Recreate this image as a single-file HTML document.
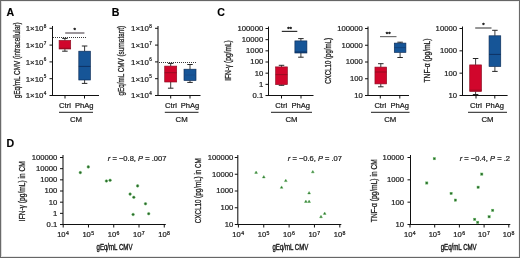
<!DOCTYPE html>
<html><head><meta charset="utf-8"><style>
html,body{margin:0;padding:0;background:#fff;}
#f{position:relative;width:520px;height:258px;overflow:hidden;background:#fff;}
svg{position:absolute;left:0;top:0;will-change:transform;}
text{font-family:"Liberation Sans",sans-serif;}
</style></head><body><div id="f">
<svg width="520" height="258" viewBox="0 0 520 258">
<rect x="0" y="0" width="520" height="258" fill="#fff"/>
<text x="6.6" y="15.7" font-size="10.6" font-weight="bold" fill="#000" stroke="#000" stroke-width="0.15">A</text>
<text transform="translate(19.7,60.3) rotate(-90)" font-size="8.6" text-anchor="middle" fill="#1c1c1c" stroke="#1c1c1c" stroke-width="0.28" textLength="76" lengthAdjust="spacingAndGlyphs">gEq/mL CMV (intracellular)</text>
<line x1="52.5" y1="26" x2="52.5" y2="96.0" stroke="#111" stroke-width="1.05" />
<line x1="49.5" y1="28.3" x2="52.5" y2="28.3" stroke="#111" stroke-width="1" />
<text x="46.3" y="31.1" font-size="7.9" text-anchor="end" fill="#1c1c1c" stroke="#1c1c1c" stroke-width="0.22">1×10<tspan dx="0.3" dy="-3.3" font-size="4.6">8</tspan></text>
<line x1="49.5" y1="45.1" x2="52.5" y2="45.1" stroke="#111" stroke-width="1" />
<text x="46.3" y="47.9" font-size="7.9" text-anchor="end" fill="#1c1c1c" stroke="#1c1c1c" stroke-width="0.22">1×10<tspan dx="0.3" dy="-3.3" font-size="4.6">7</tspan></text>
<line x1="49.5" y1="61.9" x2="52.5" y2="61.9" stroke="#111" stroke-width="1" />
<text x="46.3" y="64.7" font-size="7.9" text-anchor="end" fill="#1c1c1c" stroke="#1c1c1c" stroke-width="0.22">1×10<tspan dx="0.3" dy="-3.3" font-size="4.6">6</tspan></text>
<line x1="49.5" y1="78.7" x2="52.5" y2="78.7" stroke="#111" stroke-width="1" />
<text x="46.3" y="81.5" font-size="7.9" text-anchor="end" fill="#1c1c1c" stroke="#1c1c1c" stroke-width="0.22">1×10<tspan dx="0.3" dy="-3.3" font-size="4.6">5</tspan></text>
<line x1="49.5" y1="95.5" x2="52.5" y2="95.5" stroke="#111" stroke-width="1" />
<text x="46.3" y="98.3" font-size="7.9" text-anchor="end" fill="#1c1c1c" stroke="#1c1c1c" stroke-width="0.22">1×10<tspan dx="0.3" dy="-3.3" font-size="4.6">4</tspan></text>
<line x1="52" y1="95.5" x2="99" y2="95.5" stroke="#111" stroke-width="1.05" />
<line x1="65" y1="95.5" x2="65" y2="98.5" stroke="#111" stroke-width="1" />
<line x1="84.5" y1="95.5" x2="84.5" y2="98.5" stroke="#111" stroke-width="1" />
<rect x="53" y="37" width="1" height="1" fill="#3a3a3a"/>
<rect x="55" y="37" width="1" height="1" fill="#3a3a3a"/>
<rect x="57" y="37" width="1" height="1" fill="#3a3a3a"/>
<rect x="59" y="37" width="1" height="1" fill="#3a3a3a"/>
<rect x="61" y="37" width="1" height="1" fill="#3a3a3a"/>
<rect x="63" y="37" width="1" height="1" fill="#3a3a3a"/>
<rect x="65" y="37" width="1" height="1" fill="#3a3a3a"/>
<rect x="67" y="37" width="1" height="1" fill="#3a3a3a"/>
<rect x="69" y="37" width="1" height="1" fill="#3a3a3a"/>
<rect x="71" y="37" width="1" height="1" fill="#3a3a3a"/>
<rect x="73" y="37" width="1" height="1" fill="#3a3a3a"/>
<rect x="75" y="37" width="1" height="1" fill="#3a3a3a"/>
<rect x="77" y="37" width="1" height="1" fill="#3a3a3a"/>
<rect x="79" y="37" width="1" height="1" fill="#3a3a3a"/>
<rect x="81" y="37" width="1" height="1" fill="#3a3a3a"/>
<rect x="83" y="37" width="1" height="1" fill="#3a3a3a"/>
<rect x="85" y="37" width="1" height="1" fill="#3a3a3a"/>
<line x1="65.2" y1="33" x2="84.4" y2="33" stroke="#5a5058" stroke-width="1.2" />
<text x="74.8" y="32.3" font-size="6.2" text-anchor="middle" fill="#222" stroke="#222" stroke-width="0.45" >*</text>
<line x1="64.9" y1="38.4" x2="64.9" y2="40.5" stroke="#262626" stroke-width="0.9" />
<line x1="64.9" y1="49.0" x2="64.9" y2="51.2" stroke="#262626" stroke-width="0.9" />
<line x1="62.15" y1="38.4" x2="67.65" y2="38.4" stroke="#262626" stroke-width="1" />
<line x1="62.15" y1="51.2" x2="67.65" y2="51.2" stroke="#262626" stroke-width="1" />
<rect x="59.1" y="40.5" width="11.6" height="8.5" fill="#d1062c" stroke="#8a0c20" stroke-width="0.65"/>
<line x1="59.1" y1="48.3" x2="70.7" y2="48.3" stroke="#8a0c20" stroke-width="0.8" />
<line x1="84.6" y1="46" x2="84.6" y2="51.2" stroke="#262626" stroke-width="0.9" />
<line x1="84.6" y1="80" x2="84.6" y2="83.4" stroke="#262626" stroke-width="0.9" />
<line x1="81.85" y1="46" x2="87.35" y2="46" stroke="#262626" stroke-width="1" />
<line x1="81.85" y1="83.4" x2="87.35" y2="83.4" stroke="#262626" stroke-width="1" />
<rect x="78.8" y="51.2" width="11.6" height="28.8" fill="#165597" stroke="#0b2a55" stroke-width="0.65"/>
<line x1="78.8" y1="66.4" x2="90.4" y2="66.4" stroke="#0b2a55" stroke-width="0.8" />
<text x="65" y="107.6" font-size="7.6" text-anchor="middle" fill="#1c1c1c" stroke="#1c1c1c" stroke-width="0.22" >Ctrl</text>
<text x="84.2" y="107.6" font-size="7.6" text-anchor="middle" fill="#1c1c1c" stroke="#1c1c1c" stroke-width="0.22" >PhAg</text>
<line x1="59" y1="112.3" x2="93" y2="112.3" stroke="#111" stroke-width="0.95" />
<text x="76.0" y="121.8" font-size="7.8" text-anchor="middle" fill="#1c1c1c" stroke="#1c1c1c" stroke-width="0.22" >CM</text>
<text x="111.7" y="15.7" font-size="10.6" font-weight="bold" fill="#000" stroke="#000" stroke-width="0.15">B</text>
<text transform="translate(124.4,60.75) rotate(-90)" font-size="8.6" text-anchor="middle" fill="#1c1c1c" stroke="#1c1c1c" stroke-width="0.28" textLength="69.5" lengthAdjust="spacingAndGlyphs">gEq/mL CMV (surnatant)</text>
<line x1="158.0" y1="26" x2="158.0" y2="96.0" stroke="#111" stroke-width="1.05" />
<line x1="155.0" y1="28.3" x2="158.0" y2="28.3" stroke="#111" stroke-width="1" />
<text x="151.7" y="31.1" font-size="7.9" text-anchor="end" fill="#1c1c1c" stroke="#1c1c1c" stroke-width="0.22">1×10<tspan dx="0.3" dy="-3.3" font-size="4.6">8</tspan></text>
<line x1="155.0" y1="45.1" x2="158.0" y2="45.1" stroke="#111" stroke-width="1" />
<text x="151.7" y="47.9" font-size="7.9" text-anchor="end" fill="#1c1c1c" stroke="#1c1c1c" stroke-width="0.22">1×10<tspan dx="0.3" dy="-3.3" font-size="4.6">7</tspan></text>
<line x1="155.0" y1="61.9" x2="158.0" y2="61.9" stroke="#111" stroke-width="1" />
<text x="151.7" y="64.7" font-size="7.9" text-anchor="end" fill="#1c1c1c" stroke="#1c1c1c" stroke-width="0.22">1×10<tspan dx="0.3" dy="-3.3" font-size="4.6">6</tspan></text>
<line x1="155.0" y1="78.7" x2="158.0" y2="78.7" stroke="#111" stroke-width="1" />
<text x="151.7" y="81.5" font-size="7.9" text-anchor="end" fill="#1c1c1c" stroke="#1c1c1c" stroke-width="0.22">1×10<tspan dx="0.3" dy="-3.3" font-size="4.6">5</tspan></text>
<line x1="155.0" y1="95.5" x2="158.0" y2="95.5" stroke="#111" stroke-width="1" />
<text x="151.7" y="98.3" font-size="7.9" text-anchor="end" fill="#1c1c1c" stroke="#1c1c1c" stroke-width="0.22">1×10<tspan dx="0.3" dy="-3.3" font-size="4.6">4</tspan></text>
<line x1="157.5" y1="95.5" x2="200.5" y2="95.5" stroke="#111" stroke-width="1.05" />
<line x1="170.7" y1="95.5" x2="170.7" y2="98.5" stroke="#111" stroke-width="1" />
<line x1="190" y1="95.5" x2="190" y2="98.5" stroke="#111" stroke-width="1" />
<rect x="159" y="62" width="1" height="1" fill="#3a3a3a"/>
<rect x="161" y="62" width="1" height="1" fill="#3a3a3a"/>
<rect x="163" y="62" width="1" height="1" fill="#3a3a3a"/>
<rect x="165" y="62" width="1" height="1" fill="#3a3a3a"/>
<rect x="167" y="62" width="1" height="1" fill="#3a3a3a"/>
<rect x="169" y="62" width="1" height="1" fill="#3a3a3a"/>
<rect x="171" y="62" width="1" height="1" fill="#3a3a3a"/>
<rect x="173" y="62" width="1" height="1" fill="#3a3a3a"/>
<rect x="175" y="62" width="1" height="1" fill="#3a3a3a"/>
<rect x="177" y="62" width="1" height="1" fill="#3a3a3a"/>
<rect x="179" y="62" width="1" height="1" fill="#3a3a3a"/>
<rect x="181" y="62" width="1" height="1" fill="#3a3a3a"/>
<rect x="183" y="62" width="1" height="1" fill="#3a3a3a"/>
<rect x="185" y="62" width="1" height="1" fill="#3a3a3a"/>
<rect x="187" y="62" width="1" height="1" fill="#3a3a3a"/>
<rect x="189" y="62" width="1" height="1" fill="#3a3a3a"/>
<rect x="191" y="62" width="1" height="1" fill="#3a3a3a"/>
<rect x="193" y="62" width="1" height="1" fill="#3a3a3a"/>
<rect x="195" y="62" width="1" height="1" fill="#3a3a3a"/>
<line x1="170.7" y1="63.4" x2="170.7" y2="66.1" stroke="#262626" stroke-width="0.9" />
<line x1="170.7" y1="82" x2="170.7" y2="88.2" stroke="#262626" stroke-width="0.9" />
<line x1="167.95" y1="63.4" x2="173.45" y2="63.4" stroke="#262626" stroke-width="1" />
<line x1="167.95" y1="88.2" x2="173.45" y2="88.2" stroke="#262626" stroke-width="1" />
<rect x="164.7" y="66.1" width="12" height="15.9" fill="#d1062c" stroke="#8a0c20" stroke-width="0.65"/>
<line x1="164.7" y1="72.7" x2="176.7" y2="72.7" stroke="#8a0c20" stroke-width="0.8" />
<line x1="190" y1="64.5" x2="190" y2="69.2" stroke="#262626" stroke-width="0.9" />
<line x1="190" y1="80.5" x2="190" y2="82.4" stroke="#262626" stroke-width="0.9" />
<line x1="187.25" y1="64.5" x2="192.75" y2="64.5" stroke="#262626" stroke-width="1" />
<line x1="187.25" y1="82.4" x2="192.75" y2="82.4" stroke="#262626" stroke-width="1" />
<rect x="184.0" y="69.2" width="12" height="11.3" fill="#165597" stroke="#0b2a55" stroke-width="0.65"/>
<line x1="184.0" y1="75" x2="196.0" y2="75" stroke="#1a4a85" stroke-width="0.8" />
<text x="171" y="107.6" font-size="7.6" text-anchor="middle" fill="#1c1c1c" stroke="#1c1c1c" stroke-width="0.22" >Ctrl</text>
<text x="190" y="107.6" font-size="7.6" text-anchor="middle" fill="#1c1c1c" stroke="#1c1c1c" stroke-width="0.22" >PhAg</text>
<line x1="164.8" y1="112.3" x2="198.5" y2="112.3" stroke="#111" stroke-width="0.95" />
<text x="181.65" y="121.8" font-size="7.8" text-anchor="middle" fill="#1c1c1c" stroke="#1c1c1c" stroke-width="0.22" >CM</text>
<text x="217.2" y="15.7" font-size="10.6" font-weight="bold" fill="#000" stroke="#000" stroke-width="0.15">C</text>
<text transform="translate(231.3,60.5) rotate(-90)" font-size="8.6" text-anchor="middle" fill="#1c1c1c" stroke="#1c1c1c" stroke-width="0.28" textLength="40.5" lengthAdjust="spacingAndGlyphs">IFN-γ (pg/mL)</text>
<line x1="268.5" y1="26.5" x2="268.5" y2="96.02" stroke="#111" stroke-width="1.05" />
<line x1="265.5" y1="28.5" x2="268.5" y2="28.5" stroke="#111" stroke-width="1" />
<text x="263.2" y="30.9" font-size="7.7" text-anchor="end" fill="#1c1c1c" stroke="#1c1c1c" stroke-width="0.22" >100000</text>
<line x1="265.5" y1="39.67" x2="268.5" y2="39.67" stroke="#111" stroke-width="1" />
<text x="263.2" y="42.07" font-size="7.7" text-anchor="end" fill="#1c1c1c" stroke="#1c1c1c" stroke-width="0.22" >10000</text>
<line x1="265.5" y1="50.84" x2="268.5" y2="50.84" stroke="#111" stroke-width="1" />
<text x="263.2" y="53.24" font-size="7.7" text-anchor="end" fill="#1c1c1c" stroke="#1c1c1c" stroke-width="0.22" >1000</text>
<line x1="265.5" y1="62.01" x2="268.5" y2="62.01" stroke="#111" stroke-width="1" />
<text x="263.2" y="64.41" font-size="7.7" text-anchor="end" fill="#1c1c1c" stroke="#1c1c1c" stroke-width="0.22" >100</text>
<line x1="265.5" y1="73.18" x2="268.5" y2="73.18" stroke="#111" stroke-width="1" />
<text x="263.2" y="75.58" font-size="7.7" text-anchor="end" fill="#1c1c1c" stroke="#1c1c1c" stroke-width="0.22" >10</text>
<line x1="265.5" y1="84.35" x2="268.5" y2="84.35" stroke="#111" stroke-width="1" />
<text x="263.2" y="86.75" font-size="7.7" text-anchor="end" fill="#1c1c1c" stroke="#1c1c1c" stroke-width="0.22" >1</text>
<line x1="265.5" y1="95.52" x2="268.5" y2="95.52" stroke="#111" stroke-width="1" />
<text x="263.2" y="97.92" font-size="7.7" text-anchor="end" fill="#1c1c1c" stroke="#1c1c1c" stroke-width="0.22" >0.1</text>
<line x1="268" y1="95.5" x2="313.5" y2="95.5" stroke="#111" stroke-width="1.05" />
<line x1="281.5" y1="95.5" x2="281.5" y2="98.5" stroke="#111" stroke-width="1" />
<line x1="301" y1="95.5" x2="301" y2="98.5" stroke="#111" stroke-width="1" />
<line x1="281.8" y1="31.4" x2="297.3" y2="31.4" stroke="#303030" stroke-width="1.2" />
<text x="289.55" y="30.9" font-size="6.2" text-anchor="middle" fill="#222" stroke="#222" stroke-width="0.45" >**</text>
<line x1="281.5" y1="65.3" x2="281.5" y2="66.9" stroke="#262626" stroke-width="0.9" />
<line x1="281.5" y1="84.6" x2="281.5" y2="85.3" stroke="#262626" stroke-width="0.9" />
<line x1="278.75" y1="65.3" x2="284.25" y2="65.3" stroke="#262626" stroke-width="1" />
<line x1="278.75" y1="85.3" x2="284.25" y2="85.3" stroke="#262626" stroke-width="1" />
<rect x="275.65" y="66.9" width="11.7" height="17.7" fill="#d1062c" stroke="#8a0c20" stroke-width="0.65"/>
<line x1="275.65" y1="74.6" x2="287.35" y2="74.6" stroke="#8a0c20" stroke-width="0.8" />
<line x1="300.9" y1="38.6" x2="300.9" y2="40.9" stroke="#262626" stroke-width="0.9" />
<line x1="300.9" y1="53" x2="300.9" y2="57.2" stroke="#262626" stroke-width="0.9" />
<line x1="298.15" y1="38.6" x2="303.65" y2="38.6" stroke="#262626" stroke-width="1" />
<line x1="298.15" y1="57.2" x2="303.65" y2="57.2" stroke="#262626" stroke-width="1" />
<rect x="294.9" y="40.9" width="12" height="12.1" fill="#165597" stroke="#0b2a55" stroke-width="0.65"/>
<line x1="294.9" y1="52" x2="306.9" y2="52" stroke="#0b2a55" stroke-width="0.8" />
<text x="281.2" y="107.6" font-size="7.6" text-anchor="middle" fill="#1c1c1c" stroke="#1c1c1c" stroke-width="0.22" >Ctrl</text>
<text x="300.8" y="107.6" font-size="7.6" text-anchor="middle" fill="#1c1c1c" stroke="#1c1c1c" stroke-width="0.22" >PhAg</text>
<line x1="271" y1="112.3" x2="312" y2="112.3" stroke="#111" stroke-width="0.95" />
<text x="291.5" y="121.8" font-size="7.8" text-anchor="middle" fill="#1c1c1c" stroke="#1c1c1c" stroke-width="0.22" >CM</text>
<text transform="translate(330.5,60.9) rotate(-90)" font-size="8.6" text-anchor="middle" fill="#1c1c1c" stroke="#1c1c1c" stroke-width="0.28" textLength="45.8" lengthAdjust="spacingAndGlyphs">CXCL10 (pg/mL)</text>
<line x1="368.0" y1="26.5" x2="368.0" y2="96.0" stroke="#111" stroke-width="1.05" />
<line x1="365.0" y1="28.5" x2="368.0" y2="28.5" stroke="#111" stroke-width="1" />
<text x="362.9" y="30.9" font-size="7.7" text-anchor="end" fill="#1c1c1c" stroke="#1c1c1c" stroke-width="0.22" >100000</text>
<line x1="365.0" y1="45.25" x2="368.0" y2="45.25" stroke="#111" stroke-width="1" />
<text x="362.9" y="47.65" font-size="7.7" text-anchor="end" fill="#1c1c1c" stroke="#1c1c1c" stroke-width="0.22" >10000</text>
<line x1="365.0" y1="62.0" x2="368.0" y2="62.0" stroke="#111" stroke-width="1" />
<text x="362.9" y="64.4" font-size="7.7" text-anchor="end" fill="#1c1c1c" stroke="#1c1c1c" stroke-width="0.22" >1000</text>
<line x1="365.0" y1="78.75" x2="368.0" y2="78.75" stroke="#111" stroke-width="1" />
<text x="362.9" y="81.15" font-size="7.7" text-anchor="end" fill="#1c1c1c" stroke="#1c1c1c" stroke-width="0.22" >100</text>
<line x1="365.0" y1="95.5" x2="368.0" y2="95.5" stroke="#111" stroke-width="1" />
<text x="362.9" y="97.9" font-size="7.7" text-anchor="end" fill="#1c1c1c" stroke="#1c1c1c" stroke-width="0.22" >10</text>
<line x1="367.5" y1="95.5" x2="409" y2="95.5" stroke="#111" stroke-width="1.05" />
<line x1="380.3" y1="95.5" x2="380.3" y2="98.5" stroke="#111" stroke-width="1" />
<line x1="399.8" y1="95.5" x2="399.8" y2="98.5" stroke="#111" stroke-width="1" />
<line x1="380" y1="36.6" x2="396.5" y2="36.6" stroke="#707070" stroke-width="1.2" />
<text x="388.25" y="36.2" font-size="6.2" text-anchor="middle" fill="#222" stroke="#222" stroke-width="0.45" >**</text>
<line x1="380.8" y1="63.7" x2="380.8" y2="67.1" stroke="#262626" stroke-width="0.9" />
<line x1="380.8" y1="83.9" x2="380.8" y2="86.8" stroke="#262626" stroke-width="0.9" />
<line x1="378.05" y1="63.7" x2="383.55" y2="63.7" stroke="#262626" stroke-width="1" />
<line x1="378.05" y1="86.8" x2="383.55" y2="86.8" stroke="#262626" stroke-width="1" />
<rect x="374.95" y="67.1" width="11.7" height="16.8" fill="#d1062c" stroke="#8a0c20" stroke-width="0.65"/>
<line x1="374.95" y1="72" x2="386.65" y2="72" stroke="#8a0c20" stroke-width="0.8" />
<line x1="400.1" y1="42.2" x2="400.1" y2="43.1" stroke="#262626" stroke-width="0.9" />
<line x1="400.1" y1="52.4" x2="400.1" y2="57.5" stroke="#262626" stroke-width="0.9" />
<line x1="397.35" y1="42.2" x2="402.85" y2="42.2" stroke="#262626" stroke-width="1" />
<line x1="397.35" y1="57.5" x2="402.85" y2="57.5" stroke="#262626" stroke-width="1" />
<rect x="394.3" y="43.1" width="11.6" height="9.3" fill="#165597" stroke="#0b2a55" stroke-width="0.65"/>
<line x1="394.3" y1="47.6" x2="405.9" y2="47.6" stroke="#123f75" stroke-width="0.8" />
<text x="380.3" y="107.6" font-size="7.6" text-anchor="middle" fill="#1c1c1c" stroke="#1c1c1c" stroke-width="0.22" >Ctrl</text>
<text x="399.8" y="107.6" font-size="7.6" text-anchor="middle" fill="#1c1c1c" stroke="#1c1c1c" stroke-width="0.22" >PhAg</text>
<line x1="371" y1="112.3" x2="409.5" y2="112.3" stroke="#111" stroke-width="0.95" />
<text x="390.25" y="121.8" font-size="7.8" text-anchor="middle" fill="#1c1c1c" stroke="#1c1c1c" stroke-width="0.22" >CM</text>
<text transform="translate(430.3,60.5) rotate(-90)" font-size="8.6" text-anchor="middle" fill="#1c1c1c" stroke="#1c1c1c" stroke-width="0.28" textLength="44.1" lengthAdjust="spacingAndGlyphs">TNF-α (pg/mL)</text>
<line x1="462.5" y1="26.5" x2="462.5" y2="95.99" stroke="#111" stroke-width="1.05" />
<line x1="459.5" y1="28.5" x2="462.5" y2="28.5" stroke="#111" stroke-width="1" />
<text x="457.0" y="30.9" font-size="7.7" text-anchor="end" fill="#1c1c1c" stroke="#1c1c1c" stroke-width="0.22" >10000</text>
<line x1="459.5" y1="50.83" x2="462.5" y2="50.83" stroke="#111" stroke-width="1" />
<text x="457.0" y="53.23" font-size="7.7" text-anchor="end" fill="#1c1c1c" stroke="#1c1c1c" stroke-width="0.22" >1000</text>
<line x1="459.5" y1="73.16" x2="462.5" y2="73.16" stroke="#111" stroke-width="1" />
<text x="457.0" y="75.56" font-size="7.7" text-anchor="end" fill="#1c1c1c" stroke="#1c1c1c" stroke-width="0.22" >100</text>
<line x1="459.5" y1="95.49" x2="462.5" y2="95.49" stroke="#111" stroke-width="1" />
<text x="457.0" y="97.89" font-size="7.7" text-anchor="end" fill="#1c1c1c" stroke="#1c1c1c" stroke-width="0.22" >10</text>
<line x1="462" y1="95.5" x2="507.6" y2="95.5" stroke="#111" stroke-width="1.05" />
<line x1="476" y1="95.5" x2="476" y2="98.5" stroke="#111" stroke-width="1" />
<line x1="494.8" y1="95.5" x2="494.8" y2="98.5" stroke="#111" stroke-width="1" />
<line x1="475.2" y1="28" x2="491.5" y2="28" stroke="#505050" stroke-width="1.2" />
<text x="483.35" y="27.4" font-size="6.2" text-anchor="middle" fill="#222" stroke="#222" stroke-width="0.45" >*</text>
<line x1="475.6" y1="58.5" x2="475.6" y2="64.9" stroke="#262626" stroke-width="0.9" />
<line x1="475.6" y1="91.5" x2="475.6" y2="94.5" stroke="#262626" stroke-width="0.9" />
<line x1="472.85" y1="58.5" x2="478.35" y2="58.5" stroke="#262626" stroke-width="1" />
<line x1="472.85" y1="94.5" x2="478.35" y2="94.5" stroke="#262626" stroke-width="1" />
<rect x="469.7" y="64.9" width="11.8" height="26.6" fill="#d1062c" stroke="#8a0c20" stroke-width="0.65"/>
<line x1="469.7" y1="90.2" x2="481.5" y2="90.2" stroke="#8a0c20" stroke-width="0.8" />
<line x1="494.9" y1="30.3" x2="494.9" y2="35.8" stroke="#262626" stroke-width="0.9" />
<line x1="494.9" y1="66.5" x2="494.9" y2="71.4" stroke="#262626" stroke-width="0.9" />
<line x1="492.15" y1="30.3" x2="497.65" y2="30.3" stroke="#262626" stroke-width="1" />
<line x1="492.15" y1="71.4" x2="497.65" y2="71.4" stroke="#262626" stroke-width="1" />
<rect x="489.05" y="35.8" width="11.7" height="30.7" fill="#165597" stroke="#0b2a55" stroke-width="0.65"/>
<line x1="489.05" y1="54.4" x2="500.75" y2="54.4" stroke="#0b2a55" stroke-width="0.8" />
<text x="476" y="107.6" font-size="7.6" text-anchor="middle" fill="#1c1c1c" stroke="#1c1c1c" stroke-width="0.22" >Ctrl</text>
<text x="494.8" y="107.6" font-size="7.6" text-anchor="middle" fill="#1c1c1c" stroke="#1c1c1c" stroke-width="0.22" >PhAg</text>
<line x1="468" y1="112.3" x2="507" y2="112.3" stroke="#111" stroke-width="0.95" />
<text x="487.5" y="121.8" font-size="7.8" text-anchor="middle" fill="#1c1c1c" stroke="#1c1c1c" stroke-width="0.22" >CM</text>
<text x="6.6" y="146.6" font-size="10.6" font-weight="bold" fill="#000" stroke="#000" stroke-width="0.15">D</text>
<text transform="translate(24.5,191.2) rotate(-90)" font-size="8.6" text-anchor="middle" fill="#1c1c1c" stroke="#1c1c1c" stroke-width="0.28" textLength="60" lengthAdjust="spacingAndGlyphs">IFN-γ (pg/mL) in CM</text>
<line x1="63" y1="155" x2="63" y2="225.02" stroke="#111" stroke-width="1.05" />
<line x1="60" y1="157.5" x2="63" y2="157.5" stroke="#111" stroke-width="1" />
<text x="57.3" y="159.9" font-size="7.7" text-anchor="end" fill="#1c1c1c" stroke="#1c1c1c" stroke-width="0.22" >100000</text>
<line x1="60" y1="168.67" x2="63" y2="168.67" stroke="#111" stroke-width="1" />
<text x="57.3" y="171.07" font-size="7.7" text-anchor="end" fill="#1c1c1c" stroke="#1c1c1c" stroke-width="0.22" >10000</text>
<line x1="60" y1="179.84" x2="63" y2="179.84" stroke="#111" stroke-width="1" />
<text x="57.3" y="182.24" font-size="7.7" text-anchor="end" fill="#1c1c1c" stroke="#1c1c1c" stroke-width="0.22" >1000</text>
<line x1="60" y1="191.01" x2="63" y2="191.01" stroke="#111" stroke-width="1" />
<text x="57.3" y="193.41" font-size="7.7" text-anchor="end" fill="#1c1c1c" stroke="#1c1c1c" stroke-width="0.22" >100</text>
<line x1="60" y1="202.18" x2="63" y2="202.18" stroke="#111" stroke-width="1" />
<text x="57.3" y="204.58" font-size="7.7" text-anchor="end" fill="#1c1c1c" stroke="#1c1c1c" stroke-width="0.22" >10</text>
<line x1="60" y1="213.35" x2="63" y2="213.35" stroke="#111" stroke-width="1" />
<text x="57.3" y="215.75" font-size="7.7" text-anchor="end" fill="#1c1c1c" stroke="#1c1c1c" stroke-width="0.22" >1</text>
<line x1="60" y1="224.52" x2="63" y2="224.52" stroke="#111" stroke-width="1" />
<text x="57.3" y="226.92" font-size="7.7" text-anchor="end" fill="#1c1c1c" stroke="#1c1c1c" stroke-width="0.22" >0.1</text>
<line x1="62.7" y1="224.5" x2="165.78" y2="224.5" stroke="#111" stroke-width="1.05" />
<line x1="63.2" y1="224.5" x2="63.2" y2="227.5" stroke="#111" stroke-width="1" />
<line x1="88.47" y1="224.5" x2="88.47" y2="227.5" stroke="#111" stroke-width="1" />
<line x1="113.74" y1="224.5" x2="113.74" y2="227.5" stroke="#111" stroke-width="1" />
<line x1="139.01" y1="224.5" x2="139.01" y2="227.5" stroke="#111" stroke-width="1" />
<line x1="164.28" y1="224.5" x2="164.28" y2="227.5" stroke="#111" stroke-width="1" />
<text x="63.0" y="237.1" font-size="7.6" text-anchor="middle" fill="#1c1c1c" stroke="#1c1c1c" stroke-width="0.22">10<tspan dx="0.4" dy="-2.6" font-size="5.2">4</tspan></text>
<text x="88.27" y="237.1" font-size="7.6" text-anchor="middle" fill="#1c1c1c" stroke="#1c1c1c" stroke-width="0.22">10<tspan dx="0.4" dy="-2.6" font-size="5.2">5</tspan></text>
<text x="113.54" y="237.1" font-size="7.6" text-anchor="middle" fill="#1c1c1c" stroke="#1c1c1c" stroke-width="0.22">10<tspan dx="0.4" dy="-2.6" font-size="5.2">6</tspan></text>
<text x="138.81" y="237.1" font-size="7.6" text-anchor="middle" fill="#1c1c1c" stroke="#1c1c1c" stroke-width="0.22">10<tspan dx="0.4" dy="-2.6" font-size="5.2">7</tspan></text>
<text x="164.08" y="237.1" font-size="7.6" text-anchor="middle" fill="#1c1c1c" stroke="#1c1c1c" stroke-width="0.22">10<tspan dx="0.4" dy="-2.6" font-size="5.2">8</tspan></text>
<text x="114.5" y="249.6" font-size="8.2" text-anchor="middle" fill="#1c1c1c" stroke="#1c1c1c" stroke-width="0.4" textLength="36" lengthAdjust="spacingAndGlyphs">gEq/mL CMV</text>
<circle cx="80.3" cy="172.6" r="1.3" fill="#2a622a" stroke="#5cb85c" stroke-width="0.5"/>
<circle cx="88.3" cy="166.9" r="1.3" fill="#2a622a" stroke="#5cb85c" stroke-width="0.5"/>
<circle cx="106.4" cy="181" r="1.3" fill="#2a622a" stroke="#5cb85c" stroke-width="0.5"/>
<circle cx="110.1" cy="180.3" r="1.3" fill="#2a622a" stroke="#5cb85c" stroke-width="0.5"/>
<circle cx="137.6" cy="185.9" r="1.3" fill="#2a622a" stroke="#5cb85c" stroke-width="0.5"/>
<circle cx="130.1" cy="194.1" r="1.3" fill="#2a622a" stroke="#5cb85c" stroke-width="0.5"/>
<circle cx="133.8" cy="197.3" r="1.3" fill="#2a622a" stroke="#5cb85c" stroke-width="0.5"/>
<circle cx="145.5" cy="203.8" r="1.3" fill="#2a622a" stroke="#5cb85c" stroke-width="0.5"/>
<circle cx="133.1" cy="214.5" r="1.3" fill="#2a622a" stroke="#5cb85c" stroke-width="0.5"/>
<circle cx="148.7" cy="213.7" r="1.3" fill="#2a622a" stroke="#5cb85c" stroke-width="0.5"/>
<text x="107.8" y="161" font-size="7.4" fill="#1c1c1c" stroke="#1c1c1c" stroke-width="0.22" textLength="58.6" lengthAdjust="spacingAndGlyphs"><tspan font-style="italic">r</tspan> = −0.8, <tspan font-style="italic">P</tspan> = .007</text>
<text transform="translate(200.9,190.75) rotate(-90)" font-size="8.6" text-anchor="middle" fill="#1c1c1c" stroke="#1c1c1c" stroke-width="0.28" textLength="65.1" lengthAdjust="spacingAndGlyphs">CXCL10 (pg/mL) in CM</text>
<line x1="237.8" y1="155" x2="237.8" y2="225.0" stroke="#111" stroke-width="1.05" />
<line x1="234.8" y1="157.5" x2="237.8" y2="157.5" stroke="#111" stroke-width="1" />
<text x="233.3" y="159.9" font-size="7.7" text-anchor="end" fill="#1c1c1c" stroke="#1c1c1c" stroke-width="0.22" >100000</text>
<line x1="234.8" y1="174.25" x2="237.8" y2="174.25" stroke="#111" stroke-width="1" />
<text x="233.3" y="176.65" font-size="7.7" text-anchor="end" fill="#1c1c1c" stroke="#1c1c1c" stroke-width="0.22" >10000</text>
<line x1="234.8" y1="191.0" x2="237.8" y2="191.0" stroke="#111" stroke-width="1" />
<text x="233.3" y="193.4" font-size="7.7" text-anchor="end" fill="#1c1c1c" stroke="#1c1c1c" stroke-width="0.22" >1000</text>
<line x1="234.8" y1="207.75" x2="237.8" y2="207.75" stroke="#111" stroke-width="1" />
<text x="233.3" y="210.15" font-size="7.7" text-anchor="end" fill="#1c1c1c" stroke="#1c1c1c" stroke-width="0.22" >100</text>
<line x1="234.8" y1="224.5" x2="237.8" y2="224.5" stroke="#111" stroke-width="1" />
<text x="233.3" y="226.9" font-size="7.7" text-anchor="end" fill="#1c1c1c" stroke="#1c1c1c" stroke-width="0.22" >10</text>
<line x1="237.9" y1="224.5" x2="341.3" y2="224.5" stroke="#111" stroke-width="1.05" />
<line x1="238.4" y1="224.5" x2="238.4" y2="227.5" stroke="#111" stroke-width="1" />
<line x1="263.75" y1="224.5" x2="263.75" y2="227.5" stroke="#111" stroke-width="1" />
<line x1="289.1" y1="224.5" x2="289.1" y2="227.5" stroke="#111" stroke-width="1" />
<line x1="314.45" y1="224.5" x2="314.45" y2="227.5" stroke="#111" stroke-width="1" />
<line x1="339.8" y1="224.5" x2="339.8" y2="227.5" stroke="#111" stroke-width="1" />
<text x="238.2" y="237.1" font-size="7.6" text-anchor="middle" fill="#1c1c1c" stroke="#1c1c1c" stroke-width="0.22">10<tspan dx="0.4" dy="-2.6" font-size="5.2">4</tspan></text>
<text x="263.55" y="237.1" font-size="7.6" text-anchor="middle" fill="#1c1c1c" stroke="#1c1c1c" stroke-width="0.22">10<tspan dx="0.4" dy="-2.6" font-size="5.2">5</tspan></text>
<text x="288.9" y="237.1" font-size="7.6" text-anchor="middle" fill="#1c1c1c" stroke="#1c1c1c" stroke-width="0.22">10<tspan dx="0.4" dy="-2.6" font-size="5.2">6</tspan></text>
<text x="314.25" y="237.1" font-size="7.6" text-anchor="middle" fill="#1c1c1c" stroke="#1c1c1c" stroke-width="0.22">10<tspan dx="0.4" dy="-2.6" font-size="5.2">7</tspan></text>
<text x="339.6" y="237.1" font-size="7.6" text-anchor="middle" fill="#1c1c1c" stroke="#1c1c1c" stroke-width="0.22">10<tspan dx="0.4" dy="-2.6" font-size="5.2">8</tspan></text>
<text x="290.4" y="249.6" font-size="8.2" text-anchor="middle" fill="#1c1c1c" stroke="#1c1c1c" stroke-width="0.4" textLength="36" lengthAdjust="spacingAndGlyphs">gEq/mL CMV</text>
<path d="M254.7,173.4 L256.1,171.0 L257.5,173.4 Z" fill="#2a622a" stroke="#5cb85c" stroke-width="0.5"/>
<path d="M262.4,177.9 L263.8,175.5 L265.2,177.9 Z" fill="#2a622a" stroke="#5cb85c" stroke-width="0.5"/>
<path d="M280.2,188.3 L281.6,185.9 L283.0,188.3 Z" fill="#2a622a" stroke="#5cb85c" stroke-width="0.5"/>
<path d="M284.4,181.6 L285.8,179.2 L287.2,181.6 Z" fill="#2a622a" stroke="#5cb85c" stroke-width="0.5"/>
<path d="M311.4,172.8 L312.8,170.4 L314.2,172.8 Z" fill="#2a622a" stroke="#5cb85c" stroke-width="0.5"/>
<path d="M307.7,193.9 L309.1,191.5 L310.5,193.9 Z" fill="#2a622a" stroke="#5cb85c" stroke-width="0.5"/>
<path d="M304.5,202.5 L305.9,200.1 L307.3,202.5 Z" fill="#2a622a" stroke="#5cb85c" stroke-width="0.5"/>
<path d="M307.7,202.5 L309.1,200.1 L310.5,202.5 Z" fill="#2a622a" stroke="#5cb85c" stroke-width="0.5"/>
<path d="M319.6,217.7 L321,215.3 L322.4,217.7 Z" fill="#2a622a" stroke="#5cb85c" stroke-width="0.5"/>
<path d="M323.3,214.4 L324.7,212.0 L326.1,214.4 Z" fill="#2a622a" stroke="#5cb85c" stroke-width="0.5"/>
<text x="287.8" y="161" font-size="7.4" fill="#1c1c1c" stroke="#1c1c1c" stroke-width="0.22" textLength="54.2" lengthAdjust="spacingAndGlyphs"><tspan font-style="italic">r</tspan> = −0.6, <tspan font-style="italic">P</tspan> = .07</text>
<text transform="translate(376.9,190.7) rotate(-90)" font-size="8.6" text-anchor="middle" fill="#1c1c1c" stroke="#1c1c1c" stroke-width="0.28" textLength="62.9" lengthAdjust="spacingAndGlyphs">TNF-α (pg/mL) in CM</text>
<line x1="410.5" y1="155" x2="410.5" y2="224.99" stroke="#111" stroke-width="1.05" />
<line x1="407.5" y1="157.5" x2="410.5" y2="157.5" stroke="#111" stroke-width="1" />
<text x="404" y="159.9" font-size="7.7" text-anchor="end" fill="#1c1c1c" stroke="#1c1c1c" stroke-width="0.22" >10000</text>
<line x1="407.5" y1="179.83" x2="410.5" y2="179.83" stroke="#111" stroke-width="1" />
<text x="404" y="182.23" font-size="7.7" text-anchor="end" fill="#1c1c1c" stroke="#1c1c1c" stroke-width="0.22" >1000</text>
<line x1="407.5" y1="202.16" x2="410.5" y2="202.16" stroke="#111" stroke-width="1" />
<text x="404" y="204.56" font-size="7.7" text-anchor="end" fill="#1c1c1c" stroke="#1c1c1c" stroke-width="0.22" >100</text>
<line x1="407.5" y1="224.49" x2="410.5" y2="224.49" stroke="#111" stroke-width="1" />
<text x="404" y="226.89" font-size="7.7" text-anchor="end" fill="#1c1c1c" stroke="#1c1c1c" stroke-width="0.22" >10</text>
<line x1="409.5" y1="224.5" x2="510.3" y2="224.5" stroke="#111" stroke-width="1.05" />
<line x1="410.0" y1="224.5" x2="410.0" y2="227.5" stroke="#111" stroke-width="1" />
<line x1="434.7" y1="224.5" x2="434.7" y2="227.5" stroke="#111" stroke-width="1" />
<line x1="459.4" y1="224.5" x2="459.4" y2="227.5" stroke="#111" stroke-width="1" />
<line x1="484.1" y1="224.5" x2="484.1" y2="227.5" stroke="#111" stroke-width="1" />
<line x1="508.8" y1="224.5" x2="508.8" y2="227.5" stroke="#111" stroke-width="1" />
<text x="409.8" y="237.1" font-size="7.6" text-anchor="middle" fill="#1c1c1c" stroke="#1c1c1c" stroke-width="0.22">10<tspan dx="0.4" dy="-2.6" font-size="5.2">4</tspan></text>
<text x="434.5" y="237.1" font-size="7.6" text-anchor="middle" fill="#1c1c1c" stroke="#1c1c1c" stroke-width="0.22">10<tspan dx="0.4" dy="-2.6" font-size="5.2">5</tspan></text>
<text x="459.2" y="237.1" font-size="7.6" text-anchor="middle" fill="#1c1c1c" stroke="#1c1c1c" stroke-width="0.22">10<tspan dx="0.4" dy="-2.6" font-size="5.2">6</tspan></text>
<text x="483.9" y="237.1" font-size="7.6" text-anchor="middle" fill="#1c1c1c" stroke="#1c1c1c" stroke-width="0.22">10<tspan dx="0.4" dy="-2.6" font-size="5.2">7</tspan></text>
<text x="508.6" y="237.1" font-size="7.6" text-anchor="middle" fill="#1c1c1c" stroke="#1c1c1c" stroke-width="0.22">10<tspan dx="0.4" dy="-2.6" font-size="5.2">8</tspan></text>
<text x="458.7" y="249.6" font-size="8.2" text-anchor="middle" fill="#1c1c1c" stroke="#1c1c1c" stroke-width="0.4" textLength="36" lengthAdjust="spacingAndGlyphs">gEq/mL CMV</text>
<rect x="433.2" y="157.6" width="2.2" height="2.2" fill="#2a622a" stroke="#5cb85c" stroke-width="0.5"/>
<rect x="425.7" y="181.9" width="2.2" height="2.2" fill="#2a622a" stroke="#5cb85c" stroke-width="0.5"/>
<rect x="450.0" y="192.3" width="2.2" height="2.2" fill="#2a622a" stroke="#5cb85c" stroke-width="0.5"/>
<rect x="454.3" y="199.0" width="2.2" height="2.2" fill="#2a622a" stroke="#5cb85c" stroke-width="0.5"/>
<rect x="480.7" y="173.0" width="2.2" height="2.2" fill="#2a622a" stroke="#5cb85c" stroke-width="0.5"/>
<rect x="477.0" y="186.1" width="2.2" height="2.2" fill="#2a622a" stroke="#5cb85c" stroke-width="0.5"/>
<rect x="491.6" y="209.2" width="2.2" height="2.2" fill="#2a622a" stroke="#5cb85c" stroke-width="0.5"/>
<rect x="488.0" y="215.7" width="2.2" height="2.2" fill="#2a622a" stroke="#5cb85c" stroke-width="0.5"/>
<rect x="473.6" y="218.2" width="2.2" height="2.2" fill="#2a622a" stroke="#5cb85c" stroke-width="0.5"/>
<rect x="476.6" y="221.2" width="2.2" height="2.2" fill="#2a622a" stroke="#5cb85c" stroke-width="0.5"/>
<text x="459.7" y="161" font-size="7.4" fill="#1c1c1c" stroke="#1c1c1c" stroke-width="0.22" textLength="50.4" lengthAdjust="spacingAndGlyphs"><tspan font-style="italic">r</tspan> = −0.4, <tspan font-style="italic">P</tspan> = .2</text>
<rect x="0" y="0" width="520" height="1" fill="#666"/><rect x="0" y="1" width="520" height="1" fill="#eee"/><rect x="0" y="0" width="1" height="258" fill="#6a6a6a"/><rect x="1" y="1" width="1" height="256" fill="#ddd"/><rect x="519" y="0" width="1" height="258" fill="#6a6a6a"/><rect x="518" y="1" width="1" height="256" fill="#f3f3f3"/><rect x="0" y="257" width="520" height="1" fill="#666"/><rect x="1" y="256" width="518" height="1" fill="#e8e8e8"/>
</svg></div></body></html>
